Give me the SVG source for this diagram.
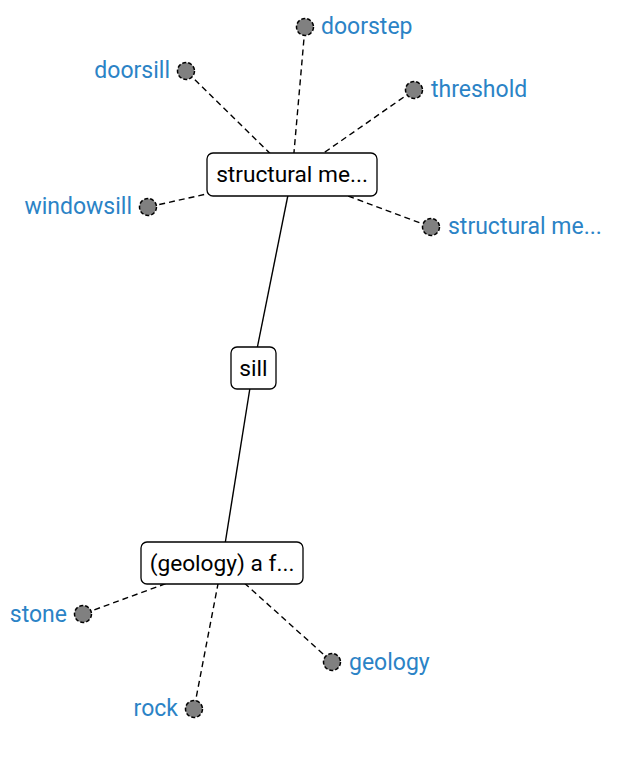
<svg xmlns="http://www.w3.org/2000/svg" width="625" height="759" viewBox="0 0 625 759">
<style>
.box{fill:#fff;stroke:#000;stroke-width:1.3}
.nt{font-family:Roboto,"Liberation Sans",sans-serif;font-size:22.7px;fill:#000;text-anchor:middle;dominant-baseline:central}
.lt{font-family:Roboto,"Liberation Sans",sans-serif;font-size:23px;fill:#2b83c6;dominant-baseline:central}
.leaf{fill:#808080;stroke:#000;stroke-width:1.5;stroke-dasharray:4,2}
.solid{stroke:#000;stroke-width:1.4;fill:none}
.dash{stroke:#000;stroke-width:1.4;fill:none;stroke-dasharray:6,4}
</style>
<rect width="625" height="759" fill="#fff"/>
<g id="connectors">
<line class="solid" x1="292" y1="175" x2="253" y2="369"/>
<line class="solid" x1="253" y1="369" x2="222" y2="563"/>
<line class="dash" x1="292" y1="175" x2="305" y2="27"/>
<line class="dash" x1="292" y1="175" x2="186" y2="71"/>
<line class="dash" x1="292" y1="175" x2="414" y2="90"/>
<line class="dash" x1="292" y1="175" x2="148" y2="207"/>
<line class="dash" x1="292" y1="175" x2="431" y2="227"/>
<line class="dash" x1="222" y1="563" x2="83" y2="614"/>
<line class="dash" x1="222" y1="563" x2="194" y2="709"/>
<line class="dash" x1="222" y1="563" x2="332" y2="662"/>
</g>
<g id="node-structural">
<rect class="box" x="207" y="153" width="170" height="43" rx="6"/>
<text class="nt" x="292" y="174">structural me...</text>
</g>
<g id="node-sill">
<rect class="box" x="231" y="347" width="45" height="42" rx="6"/>
<text class="nt" x="253.5" y="368">sill</text>
</g>
<g id="node-geology">
<rect class="box" x="141" y="542" width="162" height="42" rx="6"/>
<text class="nt" x="222" y="563">(geology) a f...</text>
</g>
<g id="leaf-doorstep"><circle class="leaf" cx="305" cy="27" r="8.5"/><text class="lt" x="321" y="26">doorstep</text></g>
<g id="leaf-doorsill"><circle class="leaf" cx="186" cy="71" r="8.5"/><text class="lt" x="170" y="70" text-anchor="end">doorsill</text></g>
<g id="leaf-threshold"><circle class="leaf" cx="414" cy="90" r="8.5"/><text class="lt" x="431" y="89">threshold</text></g>
<g id="leaf-windowsill"><circle class="leaf" cx="148" cy="207" r="8.5"/><text class="lt" x="132" y="206" text-anchor="end">windowsill</text></g>
<g id="leaf-structural2"><circle class="leaf" cx="431" cy="227" r="8.5"/><text class="lt" x="448" y="226">structural me...</text></g>
<g id="leaf-stone"><circle class="leaf" cx="83" cy="614" r="8.5"/><text class="lt" x="67" y="614" text-anchor="end">stone</text></g>
<g id="leaf-rock"><circle class="leaf" cx="194" cy="709" r="8.5"/><text class="lt" x="178" y="708" text-anchor="end">rock</text></g>
<g id="leaf-geology"><circle class="leaf" cx="332" cy="662" r="8.5"/><text class="lt" x="349" y="662">geology</text></g>
</svg>
